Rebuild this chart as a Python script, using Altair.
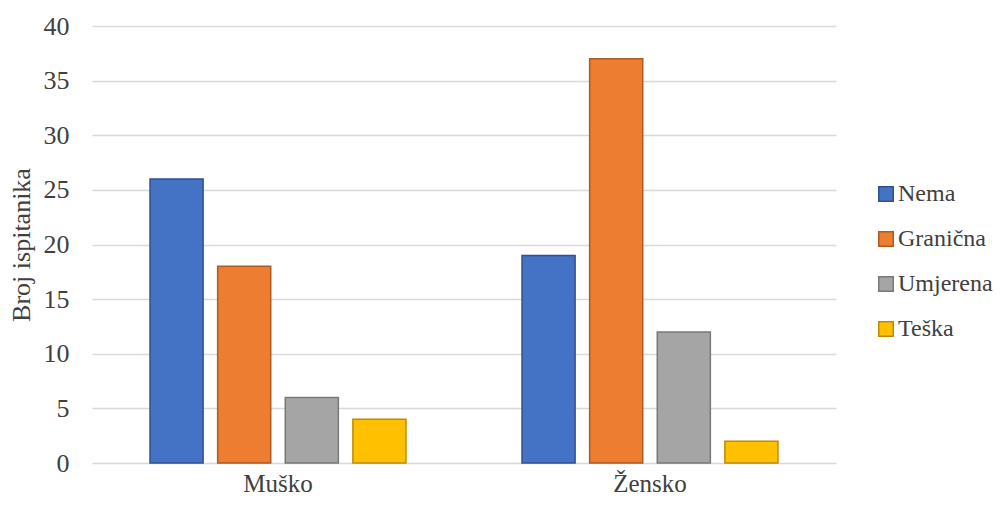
import altair as alt
import pandas as pd

groups = ["Muško", "Žensko"]
categories = ["Nema", "Granična", "Umjerena", "Teška"]
values_musko = [26, 18, 6, 4]
values_zensko = [19, 37, 12, 2]
fill_colors = ["#4472C4", "#ED7D31", "#A5A5A5", "#FFC000"]
stroke_colors = ["#2F528F", "#AE5A21", "#787878", "#BC8C00"]

rows = []
for g, vals in zip(groups, [values_musko, values_zensko]):
    for c, v in zip(categories, vals):
        rows.append({"Spol": g, "Kategorija": c, "Broj": v})
df = pd.DataFrame(rows)

FONT = "Times New Roman, Liberation Serif, DejaVu Serif, serif"
TXT = "#404040"

legend = alt.Legend(title=None, orient="none", legendX=782, legendY=156,
                    symbolType="square", symbolSize=210, symbolStrokeWidth=1.5,
                    labelFont=FONT, labelFontSize=24, labelColor=TXT,
                    labelOffset=0, rowPadding=21, labelLimit=300, padding=0)

chart = alt.Chart(df).mark_bar(strokeWidth=1.5).encode(
    x=alt.X("Spol:N", sort=groups, title=None,
            scale=alt.Scale(paddingInner=0, paddingOuter=0),
            axis=alt.Axis(labelAngle=0, labelFont=FONT, labelFontSize=25, labelColor=TXT,
                          labelPadding=8, ticks=False, domain=False, grid=False)),
    xOffset=alt.XOffset("Kategorija:N", sort=categories,
                        scale=alt.Scale(paddingInner=0.215, paddingOuter=0.858)),
    y=alt.Y("Broj:Q", title="Broj ispitanika",
            scale=alt.Scale(domain=[0, 40]),
            axis=alt.Axis(values=list(range(0, 41, 5)), labelFont=FONT, labelFontSize=26,
                          labelColor=TXT, labelPadding=23, ticks=False, domain=False,
                          gridColor="#D9D9D9", gridWidth=1.3,
                          titleFont=FONT, titleFontSize=26, titleFontWeight="normal",
                          titleColor=TXT, titlePadding=9)),
    fill=alt.Fill("Kategorija:N", sort=categories,
                  scale=alt.Scale(domain=categories, range=fill_colors),
                  legend=legend),
    stroke=alt.Stroke("Kategorija:N", sort=categories,
                      scale=alt.Scale(domain=categories, range=stroke_colors),
                      legend=legend),
).properties(
    width=744, height=437,
    autosize=alt.AutoSizeParams(type="none"),
    padding={"left": 84, "top": 18, "right": 160, "bottom": 34},
).configure(
    background="white", font=FONT
).configure_view(
    stroke=None
)

chart.save("out.html", embed_options={"renderer": "svg", "actions": False})
